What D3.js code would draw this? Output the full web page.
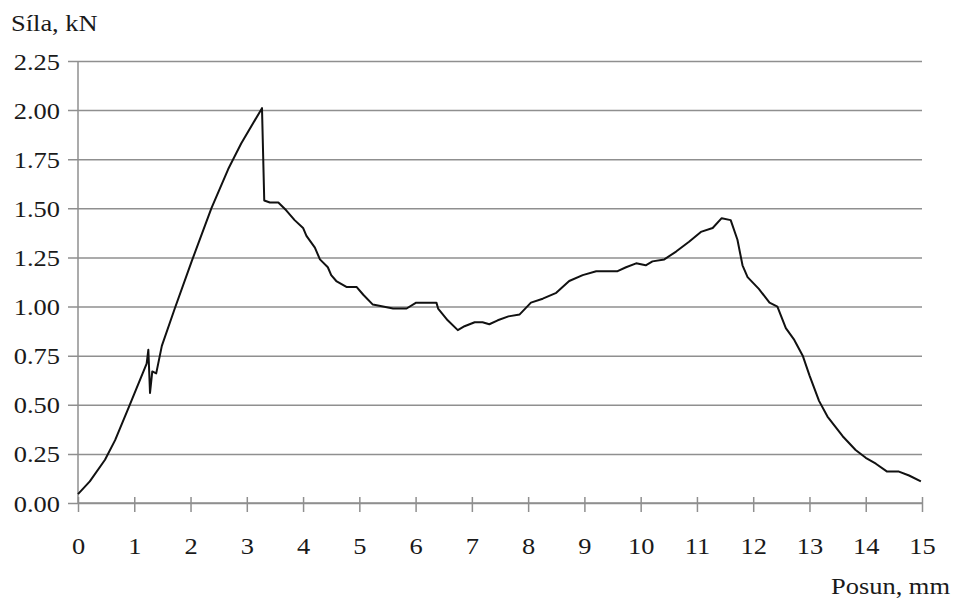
<!DOCTYPE html>
<html>
<head>
<meta charset="utf-8">
<script src="https://cdn.jsdelivr.net/npm/d3@7"></script>
<style>
  body { margin: 0; background: #fff; }
  svg { display: block; }
  text { font-family: "Liberation Serif", "Times New Roman", serif; fill: #1a1a1a; }
</style>
</head>
<body>
<svg id="chart" width="954" height="603"></svg>
<script>
// values
const posun = [0, 0.21, 0.48, 0.66, 0.92, 1.22, 1.25, 1.28, 1.32, 1.39, 1.49, 1.72, 2.02, 2.37, 2.67, 2.90,
  3.27, 3.31, 3.41, 3.56, 3.70, 3.85, 4.00, 4.06, 4.21, 4.30, 4.44, 4.50, 4.59, 4.77, 4.95, 5.07, 5.24,
  5.42, 5.60, 5.84, 6.01, 6.37, 6.40, 6.57, 6.75, 6.87, 7.05, 7.19, 7.31, 7.46, 7.65, 7.85, 8.05, 8.26,
  8.50, 8.73, 8.97, 9.21, 9.59, 9.74, 9.92, 10.09, 10.21, 10.42, 10.63, 10.86, 11.07, 11.28, 11.44,
  11.60, 11.72, 11.81, 11.90, 12.10, 12.29, 12.43, 12.58, 12.73, 12.88, 13.00, 13.17, 13.32, 13.59,
  13.82, 14.00, 14.18, 14.38, 14.59, 14.77, 14.98];
const sila = [0.045, 0.11, 0.22, 0.32, 0.50, 0.71, 0.78, 0.56, 0.67, 0.66, 0.80, 0.99, 1.23, 1.50, 1.70, 1.83,
  2.01, 1.54, 1.53, 1.53, 1.49, 1.44, 1.40, 1.36, 1.30, 1.24, 1.20, 1.16, 1.13, 1.10, 1.10, 1.06, 1.01,
  1.00, 0.99, 0.99, 1.02, 1.02, 0.99, 0.93, 0.88, 0.90, 0.92, 0.92, 0.91, 0.93, 0.95, 0.96, 1.02, 1.04,
  1.07, 1.13, 1.16, 1.18, 1.18, 1.20, 1.22, 1.21, 1.23, 1.24, 1.28, 1.33, 1.38, 1.40, 1.45,
  1.44, 1.34, 1.21, 1.15, 1.09, 1.02, 1.00, 0.89, 0.83, 0.75, 0.65, 0.52, 0.44, 0.34,
  0.27, 0.23, 0.20, 0.16, 0.16, 0.14, 0.11];
const xTicks = d3.range(0, 16);
const yTicks = [0, 0.25, 0.5, 0.75, 1.0, 1.25, 1.5, 1.75, 2.0, 2.25];
const yTitle = 'Síla, kN';
const xTitle = 'Posun, mm';

const svg = d3.select('#chart');
const x = d3.scaleLinear().domain([0, 15]).range([78, 922]);
const y = d3.scaleLinear().domain([0, 2.25]).range([503, 61]);
const gridColor = '#8f8f8f';
const sx = 1.15; // reference font is a bit wide

// horizontal gridlines + y labels
const gy = svg.append('g')
  .attr('transform', 'translate(68,0)')
  .call(d3.axisLeft(y).tickValues(yTicks).tickSize(-854).tickPadding(8).tickFormat(d3.format('.2f')));
gy.select('.domain').remove();
gy.selectAll('.tick line').attr('stroke', gridColor).attr('stroke-width', 1.5);
gy.selectAll('.tick text')
  .attr('font-size', 23).attr('fill', '#1a1a1a')
  .attr('dy', null).attr('x', null)
  .attr('transform', `translate(-8,8) scale(${sx},1)`);

// y axis line
svg.append('line')
  .attr('x1', x(0)).attr('x2', x(0)).attr('y1', y(2.25)).attr('y2', y(0))
  .attr('stroke', gridColor).attr('stroke-width', 1.5);

// x axis
const gx = svg.append('g')
  .attr('transform', `translate(0,${y(0)})`)
  .call(d3.axisBottom(x).tickValues(xTicks).tickSize(9).tickFormat(d3.format('d')));
gx.select('.domain').attr('stroke', gridColor).attr('stroke-width', 1.5).attr('d', `M${x(0)},0H${x(15)}`);
gx.selectAll('.tick line').attr('stroke', gridColor).attr('stroke-width', 1.5).attr('y1', -6);
gx.selectAll('.tick text')
  .attr('font-size', 23).attr('fill', '#1a1a1a')
  .attr('y', null).attr('dy', null)
  .attr('transform', `translate(0,51) scale(${sx},1)`);

// curve
const pts = posun.map((p, i) => [p, sila[i]]);
svg.append('path')
  .datum(pts)
  .attr('fill', 'none')
  .attr('stroke', '#111')
  .attr('stroke-width', 2)
  .attr('stroke-linejoin', 'round')
  .attr('d', d3.line().x(d => x(d[0])).y(d => y(d[1])));

// titles
svg.append('text')
  .attr('transform', `translate(11,31) scale(${sx},1)`)
  .attr('font-size', 23)
  .text(yTitle);
svg.append('text')
  .attr('transform', `translate(950,594) scale(${sx},1)`)
  .attr('text-anchor', 'end')
  .attr('font-size', 23)
  .text(xTitle);
</script>
</body>
</html>
